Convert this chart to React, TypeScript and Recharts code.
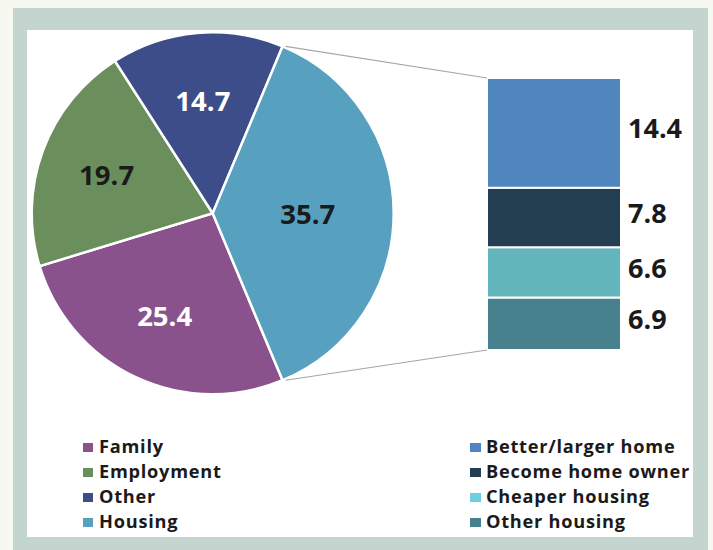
import React from 'react'
import { PieChart, Pie, Cell, BarChart, Bar, XAxis, YAxis, LabelList } from 'recharts'

const pieCategories = ['Family', 'Employment', 'Other', 'Housing']
const pieValues = [25.4, 19.7, 14.7, 35.7]
const housingCategories = ['Better/larger home', 'Become home owner', 'Cheaper housing', 'Other housing']
const housingValues = [14.4, 7.8, 6.6, 6.9]

const pieColors = ['#8a528c', '#6b8f5c', '#3d4d89', '#57a0c0']
const pieLabelColors = ['#ffffff', '#1a1a1a', '#ffffff', '#1a1a1a']
const barColors = ['#4e86bd', '#243e52', '#62b5ba', '#47818d']
const legendBarColors = ['#4e86bd', '#243e52', '#6dd0e0', '#47818d']

const W = 713
const H = 550
const CX = 212.7
const CY = 213.3
const R = 181
const BAR_LEFT = 487
const BAR_RIGHT = 621
const BAR_TOP = 78
const BAR_BOTTOM = 350
const FONT = '"Open Sans", sans-serif'
const RAD = Math.PI / 180

const pieData = pieCategories.map((name, i) => ({ name, value: pieValues[i] }))
const pieTotal = pieValues.reduce((a, b) => a + b, 0)
const housingIdx = pieCategories.indexOf('Housing')
const housingSweep = (360 * pieValues[housingIdx]) / pieTotal
const startAngle = -housingSweep / 2

// stacked bar: first key ends up at the bottom
const barRow: Record<string, number | string> = { name: 'Housing' }
housingCategories.forEach((c, i) => (barRow[c] = housingValues[i]))
const barData = [barRow]
const stackOrder = [...housingCategories.keys()].reverse()
const housingTotal = housingValues.reduce((a, b) => a + b, 0)

const renderPieLabel = (props: any) => {
  const { cx, cy, midAngle, index, value } = props
  const r = pieCategories[index] === 'Housing' ? 95 : 113
  const x = cx + r * Math.cos(-midAngle * RAD)
  const y = cy + r * Math.sin(-midAngle * RAD)
  return (
    <text x={x} y={y} fill={pieLabelColors[index]} textAnchor="middle" dominantBaseline="central"
      fontFamily={FONT} fontWeight={700} fontSize={27.5}>
      {value.toFixed(1)}
    </text>
  )
}

function Legend() {
  const base = [453, 478, 503, 528]
  const txt = { fontFamily: FONT, fontWeight: 700, fontSize: 18.2, letterSpacing: 0.75, fill: '#1a1a1a' }
  return (
    <svg width={W} height={H} style={{ position: 'absolute', left: 0, top: 0, pointerEvents: 'none' }}>
      {pieCategories.map((c, i) => (
        <g key={c}>
          <rect x={83} y={base[i] - 10} width={10} height={9} fill={pieColors[i]} />
          <text x={99} y={base[i]} {...txt}>{c}</text>
        </g>
      ))}
      {housingCategories.map((c, i) => (
        <g key={c}>
          <rect x={470} y={base[i] - 10} width={11} height={9} fill={legendBarColors[i]} />
          <text x={486} y={base[i]} {...txt}>{c}</text>
        </g>
      ))}
      {[1, -1].map((s) => {
        const a = s * (housingSweep / 2) * RAD
        return (
          <line key={s} x1={CX + R * Math.cos(a) + 3} y1={CY - R * Math.sin(a)}
            x2={BAR_LEFT} y2={s > 0 ? BAR_TOP : BAR_BOTTOM} stroke="#a6a6a6" strokeWidth={1.2} />
        )
      })}
    </svg>
  )
}

export default function App() {
  return (
    <div style={{ position: 'absolute', left: 0, top: 0, width: W, height: H, background: '#f7f8f0', overflow: 'hidden' }}>
      <div style={{ position: 'absolute', left: 13, top: 8, width: 695, height: 560, background: '#c4d4ce' }} />
      <div style={{ position: 'absolute', left: 27, top: 30, width: 666, height: 507, background: '#ffffff' }} />
      <div style={{ position: 'absolute', left: 0, top: 0 }}>
        <PieChart width={W} height={H} margin={{ top: 0, right: 0, bottom: 0, left: 0 }}>
          <Pie data={pieData} dataKey="value" nameKey="name" cx={CX} cy={CY} outerRadius={R}
            startAngle={startAngle} endAngle={startAngle - 360} stroke="#ffffff" strokeWidth={2.5}
            label={renderPieLabel} labelLine={false} isAnimationActive={false}>
            {pieData.map((d, i) => (
              <Cell key={d.name} fill={pieColors[i]} />
            ))}
          </Pie>
        </PieChart>
      </div>
      <div style={{ position: 'absolute', left: 0, top: 0 }}>
        <BarChart width={W} height={H} data={barData} barCategoryGap={0}
          margin={{ top: BAR_TOP, bottom: H - BAR_BOTTOM, left: BAR_LEFT, right: W - BAR_RIGHT }}>
          <XAxis dataKey="name" hide />
          <YAxis hide domain={[0, housingTotal]} />
          {stackOrder.map((i) => (
            <Bar key={housingCategories[i]} dataKey={housingCategories[i]} stackId="h" fill={barColors[i]}
              stroke="#ffffff" strokeWidth={2} isAnimationActive={false}>
              <LabelList dataKey={housingCategories[i]} position="right" offset={7} fill="#1a1a1a"
                fontFamily={FONT} fontWeight={700} fontSize={27} dy={-4}
                formatter={(v: any) => Number(v).toFixed(1)} />
            </Bar>
          ))}
        </BarChart>
      </div>
      <Legend />
    </div>
  )
}
